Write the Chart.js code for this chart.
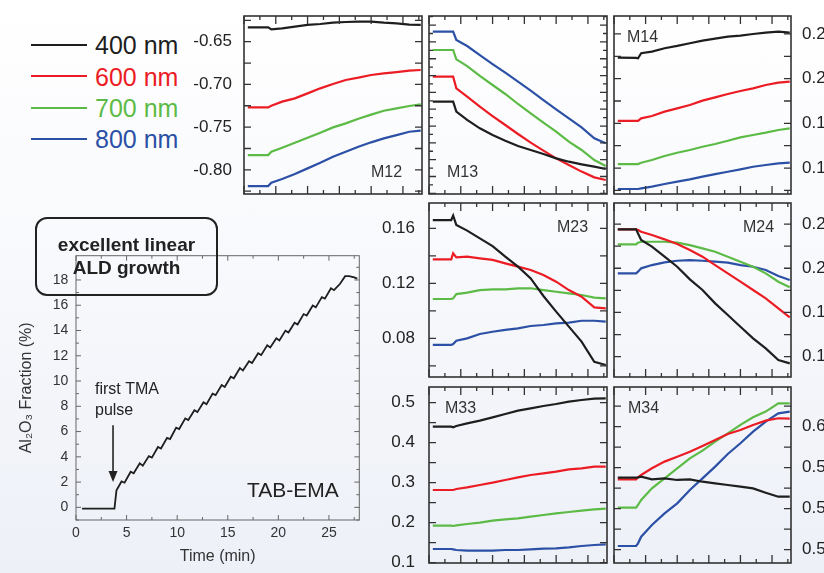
<!DOCTYPE html>
<html>
<head>
<meta charset="utf-8">
<title>TAB-EMA Mueller matrix</title>
<script src="https://cdn.jsdelivr.net/npm/chart.js@4.4.1/dist/chart.umd.min.js"></script>
<style>
  html, body { margin: 0; padding: 0; }
  body {
    width: 824px; height: 573px; overflow: hidden; position: relative;
    background: linear-gradient(to bottom, #ffffff 0%, #f8f9fc 45%, #edf0f7 100%);
    font-family: 'Liberation Sans', Arial, sans-serif;
  }
  canvas { position: absolute; }
  .legend-row { position: absolute; left: 31px; height: 30px; width: 160px; }
  .legend-line { position: absolute; left: 0; top: 13.75px; width: 56px; height: 0; border-top: 2.5px solid; }
  .legend-text { position: absolute; left: 64px; top: 0; line-height: 30px; font-size: 25px; white-space: nowrap; }
  .callout {
    position: absolute; left: 35px; top: 217px; width: 183px; height: 79px;
    box-sizing: border-box; border: 2px solid #222; border-radius: 12px;
    padding-top: 15px; text-align: center; font-weight: bold; font-size: 19px;
    line-height: 22.7px; color: #222; z-index: 2;
  }
</style>
</head>
<body>

<div class="legend-row" style="top:30px"><div class="legend-line" style="border-color:#1e1e1e"></div><div class="legend-text" style="color:#1e1e1e">400 nm</div></div>
<div class="legend-row" style="top:61.7px"><div class="legend-line" style="border-color:#ec1c24"></div><div class="legend-text" style="color:#ec1c24">600 nm</div></div>
<div class="legend-row" style="top:93px"><div class="legend-line" style="border-color:#5cbb46"></div><div class="legend-text" style="color:#5cbb46">700 nm</div></div>
<div class="legend-row" style="top:124px"><div class="legend-line" style="border-color:#2b50a5"></div><div class="legend-text" style="color:#2b50a5">800 nm</div></div>

<div class="callout">excellent linear<br>ALD growth</div>

<script>
// time axis shared by the Mueller matrix panels (min)
const panelTime = [0.6, 3.5, 3.8, 4.3, 6, 8, 10, 12, 14, 16, 18, 20, 22, 24, 26, 27.8];

// M12
const m12Black = [-0.6332, -0.6332, -0.6332, -0.6355, -0.6343, -0.6324, -0.6304, -0.6293, -0.6277, -0.6269, -0.6265, -0.6265, -0.6277, -0.6285, -0.6300, -0.6304];
const m12Red   = [-0.7269, -0.7269, -0.7269, -0.7249, -0.7202, -0.7163, -0.7105, -0.7046, -0.6995, -0.6948, -0.6921, -0.6890, -0.6870, -0.6855, -0.6839, -0.6831];
const m12Green = [-0.7827, -0.7827, -0.7827, -0.7788, -0.7741, -0.7682, -0.7624, -0.7565, -0.7503, -0.7456, -0.7401, -0.7354, -0.7308, -0.7280, -0.7253, -0.7233];
const m12Blue  = [-0.8190, -0.8190, -0.8190, -0.8151, -0.8108, -0.8049, -0.7983, -0.7917, -0.7846, -0.7788, -0.7729, -0.7678, -0.7632, -0.7593, -0.7554, -0.7542];

// M13 (no scale printed, values in tick units)
const m13Black = [10.90, 10.90, 10.90, 9.71, 8.72, 7.73, 6.93, 6.26, 5.63, 5.15, 4.68, 4.16, 3.76, 3.45, 3.17, 2.89];
const m13Red   = [13.87, 13.87, 13.87, 12.48, 11.49, 10.30, 9.19, 8.12, 7.05, 6.02, 5.07, 4.16, 3.37, 2.58, 1.90, 1.58];
const m13Green = [17.04, 17.04, 17.04, 15.93, 15.13, 13.95, 12.88, 11.81, 10.62, 9.51, 8.40, 7.33, 6.14, 5.15, 3.96, 3.25];
const m13Blue  = [19.22, 19.22, 19.22, 18.23, 17.51, 16.44, 15.37, 14.34, 13.27, 12.20, 11.09, 9.98, 8.91, 7.84, 6.54, 5.94];

// M14
const m14Black = [0.2235, 0.2232, 0.2228, 0.2284, 0.2302, 0.2340, 0.2366, 0.2396, 0.2425, 0.2448, 0.2470, 0.2481, 0.2500, 0.2515, 0.2526, 0.2515];
const m14Red   = [0.1527, 0.1527, 0.1527, 0.1556, 0.1582, 0.1631, 0.1668, 0.1706, 0.1754, 0.1791, 0.1829, 0.1862, 0.1892, 0.1929, 0.1955, 0.1967];
const m14Green = [0.1045, 0.1045, 0.1045, 0.1060, 0.1090, 0.1135, 0.1172, 0.1202, 0.1239, 0.1269, 0.1306, 0.1344, 0.1370, 0.1396, 0.1426, 0.1444];
const m14Blue  = [0.0766, 0.0766, 0.0766, 0.0773, 0.0792, 0.0822, 0.0848, 0.0874, 0.0904, 0.0933, 0.0959, 0.0986, 0.1015, 0.1034, 0.1053, 0.1060];

// M23
const m23Black = [0.1660, 0.1660, 0.1692, 0.1624, 0.1583, 0.1527, 0.1471, 0.1394, 0.1321, 0.1236, 0.1108, 0.0994, 0.0885, 0.0776, 0.0630, 0.0606];
const m23Red   = [0.1374, 0.1374, 0.1418, 0.1389, 0.1394, 0.1382, 0.1370, 0.1345, 0.1321, 0.1297, 0.1260, 0.1212, 0.1151, 0.1103, 0.1025, 0.1018];
const m23Green = [0.1086, 0.1086, 0.1091, 0.1122, 0.1132, 0.1151, 0.1156, 0.1156, 0.1164, 0.1164, 0.1151, 0.1139, 0.1127, 0.1115, 0.1096, 0.1091];
const m23Blue  = [0.0752, 0.0752, 0.0759, 0.0783, 0.0800, 0.0832, 0.0848, 0.0861, 0.0873, 0.0890, 0.0897, 0.0909, 0.0914, 0.0928, 0.0928, 0.0921];

// M24
const m24Black = [0.2440, 0.2440, 0.2394, 0.2319, 0.2244, 0.2131, 0.2017, 0.1874, 0.1754, 0.1603, 0.1471, 0.1339, 0.1207, 0.1094, 0.0962, 0.0924];
const m24Red   = [0.2440, 0.2440, 0.2432, 0.2413, 0.2376, 0.2327, 0.2274, 0.2206, 0.2131, 0.2036, 0.1942, 0.1848, 0.1754, 0.1659, 0.1546, 0.1444];
const m24Green = [0.2270, 0.2270, 0.2289, 0.2300, 0.2300, 0.2300, 0.2289, 0.2262, 0.2225, 0.2187, 0.2131, 0.2074, 0.2017, 0.1942, 0.1848, 0.1784];
const m24Blue  = [0.1942, 0.1942, 0.1961, 0.1999, 0.2036, 0.2067, 0.2085, 0.2093, 0.2085, 0.2074, 0.2063, 0.2036, 0.2017, 0.1980, 0.1912, 0.1867];

// M33
const m33Black = [0.4401, 0.4401, 0.4384, 0.4418, 0.4484, 0.4551, 0.4634, 0.4718, 0.4801, 0.4859, 0.4918, 0.4968, 0.5026, 0.5068, 0.5101, 0.5109];
const m33Red   = [0.2818, 0.2818, 0.2818, 0.2843, 0.2884, 0.2943, 0.3001, 0.3068, 0.3134, 0.3193, 0.3234, 0.3276, 0.3334, 0.3359, 0.3401, 0.3401];
const m33Green = [0.1926, 0.1926, 0.1918, 0.1934, 0.1968, 0.2001, 0.2051, 0.2084, 0.2109, 0.2151, 0.2193, 0.2234, 0.2268, 0.2301, 0.2334, 0.2351];
const m33Blue  = [0.1343, 0.1343, 0.1334, 0.1318, 0.1301, 0.1301, 0.1301, 0.1318, 0.1318, 0.1334, 0.1351, 0.1359, 0.1384, 0.1418, 0.1443, 0.1459];

// M34
const m34Black = [0.5703, 0.5703, 0.5706, 0.5712, 0.5686, 0.5696, 0.5680, 0.5686, 0.5663, 0.5647, 0.5631, 0.5615, 0.5598, 0.5556, 0.5517, 0.5517];
const m34Red   = [0.5686, 0.5686, 0.5706, 0.5729, 0.5794, 0.5859, 0.5907, 0.5956, 0.6012, 0.6070, 0.6129, 0.6168, 0.6217, 0.6259, 0.6282, 0.6278];
const m34Green = [0.5410, 0.5410, 0.5436, 0.5485, 0.5598, 0.5696, 0.5794, 0.5891, 0.5966, 0.6054, 0.6135, 0.6217, 0.6291, 0.6347, 0.6428, 0.6428];
const m34Blue  = [0.5036, 0.5036, 0.5062, 0.5127, 0.5241, 0.5354, 0.5452, 0.5582, 0.5696, 0.5810, 0.5934, 0.6038, 0.6151, 0.6249, 0.6330, 0.6347];

// tick labels of the panels
const m12Ticks = [-0.80, -0.75, -0.70, -0.65];
const m14Ticks = [0.10, 0.15, 0.20, 0.25];
const m23Ticks = [0.08, 0.12, 0.16];
const m24Ticks = [0.10, 0.15, 0.20, 0.25];
const m33Ticks = [0.1, 0.2, 0.3, 0.4, 0.5];
const m34Ticks = [0.50, 0.54, 0.58, 0.62];

// inset: Al2O3 fraction from the TAB-EMA fit
const insetTime = [0.6, 3.8, 4.0, 4.5, 4.8, 5.4, 5.7, 6.3, 6.6, 7.2, 7.5, 8.1, 8.4, 9.0, 9.3, 9.9, 10.2, 10.8, 11.1, 11.7, 12.0, 12.6, 12.9, 13.5, 13.8, 14.4, 14.7, 15.3, 15.6, 16.2, 16.5, 17.1, 17.4, 18.0, 18.3, 18.9, 19.2, 19.8, 20.1, 20.7, 21.0, 21.6, 21.9, 22.5, 22.8, 23.4, 23.7, 24.3, 24.6, 25.2, 25.5, 26.1, 26.6, 27.0, 27.5, 27.8];
const insetFraction = [-0.1, -0.1, 1.35, 2.05, 1.95, 2.82, 2.70, 3.48, 3.30, 4.06, 3.94, 4.78, 4.66, 5.50, 5.41, 6.31, 6.20, 7.04, 6.91, 7.69, 7.54, 8.32, 8.17, 9.00, 8.88, 9.68, 9.53, 10.34, 10.22, 11.02, 10.84, 11.57, 11.42, 12.20, 12.05, 12.83, 12.66, 13.38, 13.21, 13.99, 13.84, 14.62, 14.47, 15.30, 15.18, 15.98, 15.83, 16.64, 16.52, 17.34, 17.19, 17.70, 18.30, 18.30, 18.20, 18.10];
const insetXTicks = [0, 5, 10, 15, 20, 25];
const insetYTicks = [0, 2, 4, 6, 8, 10, 12, 14, 16, 18];

const lineColors = ['#1e1e1e', '#ec1c24', '#5cbb46', '#2b50a5'];
const FONT = "'Liberation Sans', Arial, sans-serif";

Chart.defaults.font.family = FONT;
Chart.defaults.color = '#222';

// frame with inward ticks on all four sides
const frameTicks = {
    id: 'frameTicks',
    afterDatasetsDraw(chart, args, o) {
        const { ctx, chartArea: a, scales: { x, y } } = chart;
        const isMajor = (v, m) => Math.abs(v / m - Math.round(v / m)) < 1e-6;
        ctx.save();
        ctx.strokeStyle = o.color;
        ctx.lineWidth = o.tickWidth;
        ctx.beginPath();
        for (let i = 0; i * o.xStep <= x.max + 1e-9; i++) {
            const v = i * o.xStep;
            const px = x.getPixelForValue(v);
            const len = isMajor(v, o.xMajor) ? o.xMajorLen : o.xMinorLen;
            ctx.moveTo(px, a.bottom); ctx.lineTo(px, a.bottom - len);
            ctx.moveTo(px, a.top); ctx.lineTo(px, a.top + len);
        }
        for (let i = Math.ceil(y.min / o.yStep - 1e-6); i * o.yStep <= y.max + 1e-9; i++) {
            const v = i * o.yStep;
            const py = y.getPixelForValue(v);
            const len = isMajor(v, o.yMajor) ? o.yMajorLen : o.yMinorLen;
            ctx.moveTo(a.left, py); ctx.lineTo(a.left + len, py);
            ctx.moveTo(a.right, py); ctx.lineTo(a.right - len, py);
        }
        ctx.stroke();
        ctx.lineWidth = o.frameWidth;
        ctx.strokeRect(a.left, a.top, a.right - a.left, a.bottom - a.top);
        ctx.restore();
    }
};

// matrix element name inside each panel
const panelTag = {
    id: 'panelTag',
    afterDatasetsDraw(chart, args, o) {
        if (!o.text) return;
        const { ctx, chartArea: a } = chart;
        ctx.save();
        ctx.fillStyle = '#333';
        ctx.font = '16px ' + FONT;
        ctx.textAlign = 'left';
        ctx.textBaseline = 'alphabetic';
        ctx.fillText(o.text, a.left + o.dx, a.top + o.dy);
        ctx.restore();
    }
};

// notes of the inset: arrow + texts placed in data coordinates
const insetNotes = {
    id: 'insetNotes',
    afterDatasetsDraw(chart) {
        const { ctx, scales: { x, y } } = chart;
        ctx.save();
        ctx.fillStyle = '#222';
        ctx.strokeStyle = '#222';
        ctx.font = '16px ' + FONT;
        ctx.textAlign = 'left';
        ctx.textBaseline = 'middle';
        ctx.fillText('first TMA', x.getPixelForValue(1.88), y.getPixelForValue(9.29));
        ctx.fillText('pulse', x.getPixelForValue(1.88), y.getPixelForValue(7.65));

        const ax = x.getPixelForValue(3.66);
        const top = y.getPixelForValue(6.5);
        const tip = y.getPixelForValue(2.0);
        ctx.lineWidth = 1.6;
        ctx.beginPath();
        ctx.moveTo(ax, top); ctx.lineTo(ax, tip - 8);
        ctx.stroke();
        ctx.beginPath();
        ctx.moveTo(ax - 4.5, tip - 11); ctx.lineTo(ax + 4.5, tip - 11); ctx.lineTo(ax, tip);
        ctx.closePath();
        ctx.fill();

        ctx.font = '21px ' + FONT;
        ctx.textAlign = 'right';
        ctx.fillText('TAB-EMA', x.getPixelForValue(25.97), y.getPixelForValue(1.24));
        ctx.restore();
    }
};

const panelSetup = [
    { id: 'm12', tag: 'M12', box: [244, 16, 178, 178], range: [-0.8283, -0.6199], labels: m12Ticks, digits: 2, yStep: 0.025, yMajor: 0.025, side: 'left', pad: 12, tagAt: [127, 161], lines: [m12Black, m12Red, m12Green, m12Blue] },
    { id: 'm13', tag: 'M13', box: [429, 16, 178, 178], range: [-0.08, 21.08], labels: [], digits: 0, yStep: 1, yMajor: 2, side: 'none', pad: 0, tagAt: [18, 161], lines: [m13Black, m13Red, m13Green, m13Blue] },
    { id: 'm14', tag: 'M14', box: [614, 16, 177, 178], range: [0.0710, 0.2701], labels: m14Ticks, digits: 2, yStep: 0.025, yMajor: 0.025, side: 'right', pad: 11, tagAt: [13, 26], lines: [m14Black, m14Red, m14Green, m14Blue] },
    { id: 'm23', tag: 'M23', box: [429, 203, 178, 174], range: [0.0519, 0.1784], labels: m23Ticks, digits: 2, yStep: 0.02, yMajor: 0.02, side: 'left', pad: 14, tagAt: [128, 29], lines: [m23Black, m23Red, m23Green, m23Blue] },
    { id: 'm24', tag: 'M24', box: [614, 203, 177, 174], range: [0.0770, 0.2738], labels: m24Ticks, digits: 2, yStep: 0.025, yMajor: 0.025, side: 'right', pad: 11, tagAt: [129, 29], lines: [m24Black, m24Red, m24Green, m24Blue] },
    { id: 'm33', tag: 'M33', box: [429, 387, 178, 176], range: [0.0993, 0.5393], labels: m33Ticks, digits: 1, yStep: 0.05, yMajor: 0.05, side: 'left', pad: 14, tagAt: [16, 26], lines: [m33Black, m33Red, m33Green, m33Blue] },
    { id: 'm34', tag: 'M34', box: [614, 387, 177, 176], range: [0.4870, 0.6587], labels: m34Ticks, digits: 2, yStep: 0.02, yMajor: 0.02, side: 'right', pad: 11, tagAt: [14, 26], lines: [m34Black, m34Red, m34Green, m34Blue] }
];

function addCanvas(left, top, width, height) {
    const canvas = document.createElement('canvas');
    canvas.width = width;
    canvas.height = height;
    canvas.style.left = left + 'px';
    canvas.style.top = top + 'px';
    canvas.style.width = width + 'px';
    canvas.style.height = height + 'px';
    document.body.appendChild(canvas);
    return canvas;
}

function toPoints(xs, ys) {
    return xs.map((t, i) => ({ x: t, y: ys[i] }));
}

function makePanel(p) {
    // room for the tick labels and a margin big enough to beat the scale's own padding
    const AXIS_W = 70, EDGE = 6, VPAD = 30;
    const [bx, by, bw, bh] = p.box;
    const hasAxis = p.side !== 'none';
    let left, width, padding;
    if (p.side === 'left') {
        left = bx - AXIS_W; width = AXIS_W + bw + EDGE;
        padding = { left: 0, right: EDGE, top: VPAD, bottom: VPAD };
    } else if (p.side === 'right') {
        left = bx - EDGE; width = EDGE + bw + AXIS_W;
        padding = { left: EDGE, right: 0, top: VPAD, bottom: VPAD };
    } else {
        left = bx - EDGE; width = bw + 2 * EDGE;
        padding = { left: EDGE, right: EDGE, top: VPAD, bottom: VPAD };
    }
    const canvas = addCanvas(left, by - VPAD, width, bh + 2 * VPAD);

    new Chart(canvas, {
        type: 'line',
        data: {
            datasets: p.lines.map((vals, i) => ({
                data: toPoints(panelTime, vals),
                borderColor: lineColors[i],
                borderWidth: 2.2,
                pointRadius: 0,
                tension: 0,
                fill: false
            }))
        },
        options: {
            responsive: false,
            animation: false,
            events: [],
            layout: { padding },
            plugins: {
                legend: { display: false },
                tooltip: { enabled: false },
                frameTicks: {
                    color: '#333', frameWidth: 1.6, tickWidth: 1.3,
                    xStep: 2.5, xMajor: 5, xMajorLen: 8, xMinorLen: 4,
                    yStep: p.yStep, yMajor: p.yMajor, yMajorLen: 7, yMinorLen: 4
                },
                panelTag: { text: p.tag, dx: p.tagAt[0], dy: p.tagAt[1] }
            },
            scales: {
                x: { type: 'linear', min: 0, max: 28, display: false },
                y: {
                    type: 'linear',
                    position: p.side === 'right' ? 'right' : 'left',
                    display: hasAxis,
                    min: p.range[0],
                    max: p.range[1],
                    grid: { display: false, drawTicks: false },
                    border: { display: false },
                    afterBuildTicks: (axis) => { axis.ticks = p.labels.map(v => ({ value: v })); },
                    afterFit: (axis) => { if (hasAxis) axis.width = AXIS_W; },
                    ticks: {
                        padding: p.pad,
                        color: '#222',
                        font: { size: 17 },
                        autoSkip: false,
                        callback: (v) => Number(v).toFixed(p.digits)
                    }
                }
            }
        },
        plugins: [frameTicks, panelTag]
    });
}

function makeInset() {
    const canvas = addCanvas(0, 230, 372, 343);
    new Chart(canvas, {
        type: 'line',
        data: {
            datasets: [{
                data: toPoints(insetTime, insetFraction),
                borderColor: '#1e1e1e',
                borderWidth: 1.8,
                pointRadius: 0,
                tension: 0,
                fill: false
            }]
        },
        options: {
            responsive: false,
            animation: false,
            events: [],
            layout: { padding: { left: 0, right: 12.7, top: 25.7, bottom: 0 } },
            plugins: {
                legend: { display: false },
                tooltip: { enabled: false },
                frameTicks: {
                    color: '#666', frameWidth: 1, tickWidth: 1,
                    xStep: 2.5, xMajor: 5, xMajorLen: 5, xMinorLen: 3,
                    yStep: 1, yMajor: 2, yMajorLen: 5, yMinorLen: 3
                }
            },
            scales: {
                x: {
                    type: 'linear', min: 0, max: 28,
                    grid: { display: false, drawTicks: false },
                    border: { display: false },
                    afterBuildTicks: (axis) => { axis.ticks = insetXTicks.map(v => ({ value: v })); },
                    afterFit: (axis) => { axis.height = 53; },
                    ticks: { padding: 5, color: '#333', font: { size: 14 }, maxRotation: 0, autoSkip: false },
                    title: { display: true, text: 'Time (min)', color: '#333', font: { size: 16 }, padding: { top: 0, bottom: 6.7 } }
                },
                y: {
                    type: 'linear', min: -1, max: 19.92,
                    grid: { display: false, drawTicks: false },
                    border: { display: false },
                    afterBuildTicks: (axis) => { axis.ticks = insetYTicks.map(v => ({ value: v })); },
                    afterFit: (axis) => { axis.width = 76; },
                    ticks: { padding: 7.7, color: '#333', font: { size: 14 }, autoSkip: false },
                    title: { display: true, text: 'Al₂O₃ Fraction (%)', color: '#333', font: { size: 16 }, padding: { top: 17, bottom: 0 } }
                }
            }
        },
        plugins: [frameTicks, insetNotes]
    });
}

panelSetup.forEach(makePanel);
makeInset();
</script>
</body>
</html>
